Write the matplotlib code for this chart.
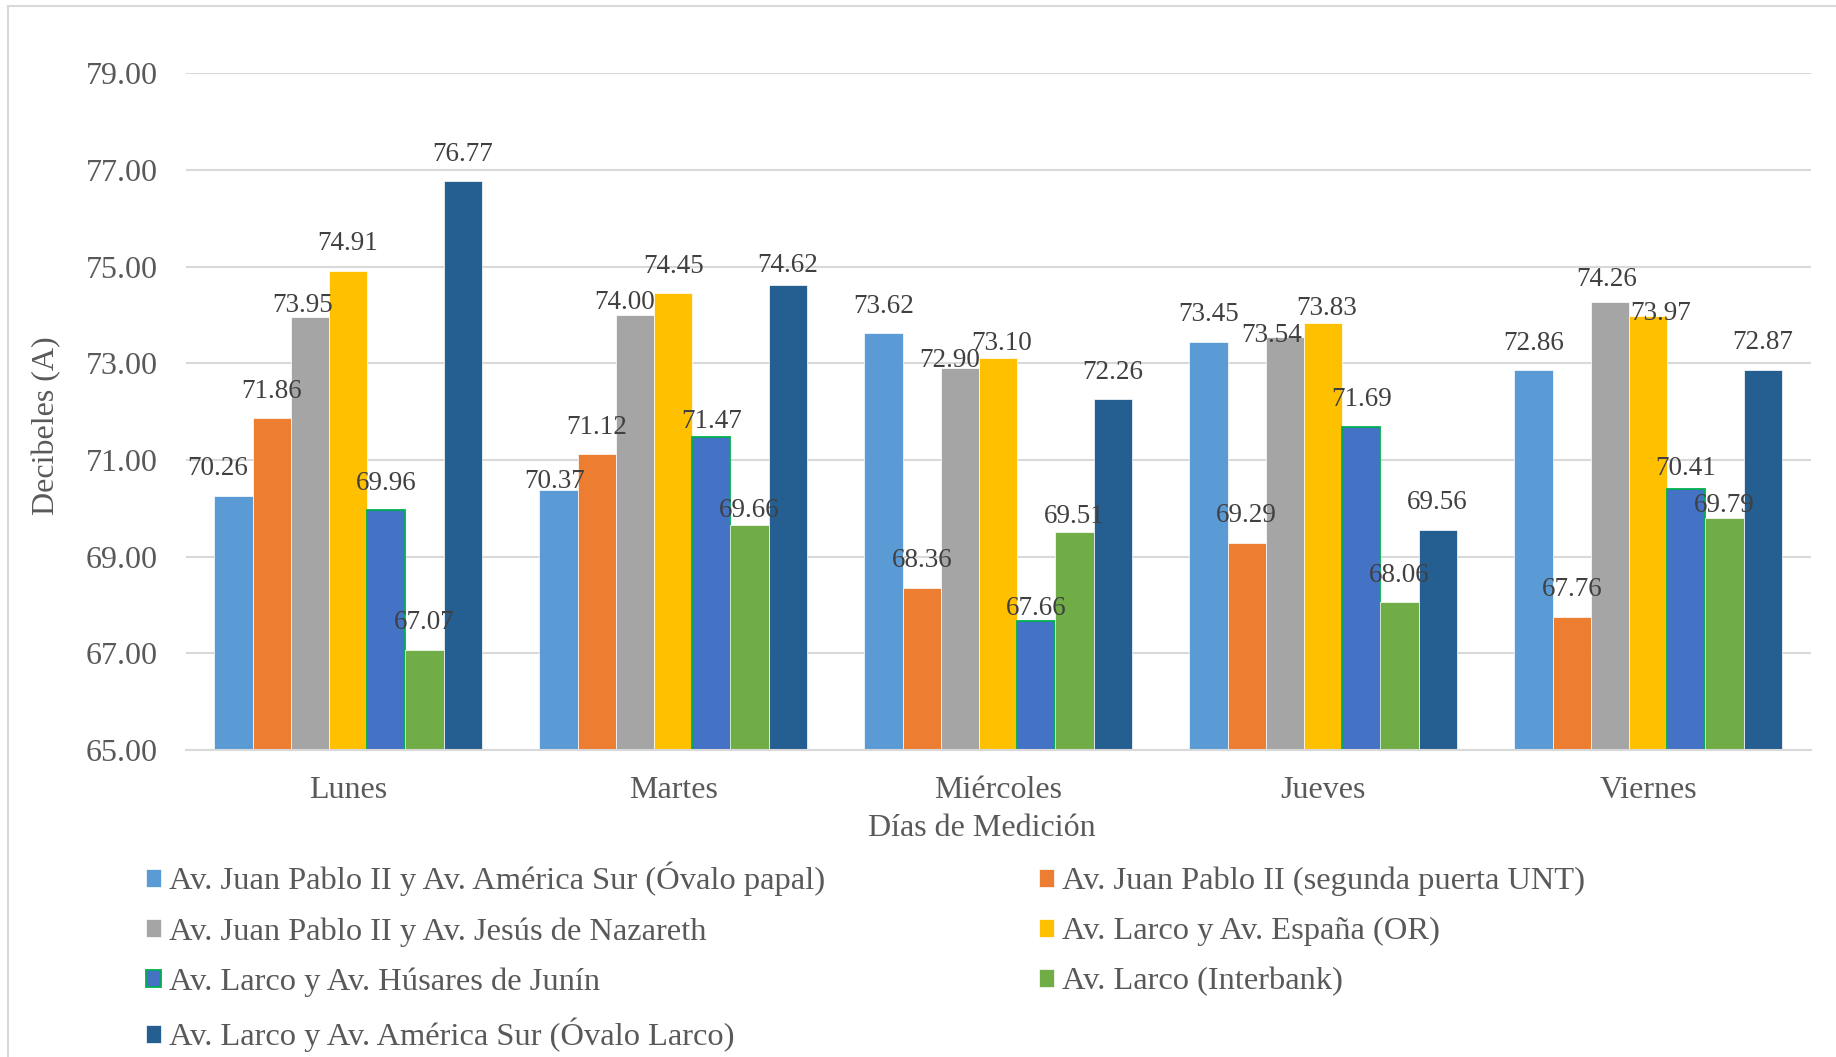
import numpy as np
import matplotlib
matplotlib.use('Agg')
import matplotlib.pyplot as plt
from matplotlib.lines import Line2D

plt.rcParams['font.family'] = ['Liberation Serif', 'DejaVu Serif']

# Days on the x axis
dias = ['Lunes', 'Martes', 'Miércoles', 'Jueves', 'Viernes']

# Measuring points (legend entries)
puntos = ['Av. Juan Pablo II y Av. América Sur (Óvalo papal)',
          'Av. Juan Pablo II (segunda puerta UNT)',
          'Av. Juan Pablo II y Av. Jesús de Nazareth',
          'Av. Larco y Av. España (OR)',
          'Av. Larco y Av. Húsares de Junín',
          'Av. Larco (Interbank)',
          'Av. Larco y Av. América Sur (Óvalo Larco)']

# Decibels (A) per point, Monday..Friday
ovalo_papal = [70.26, 70.37, 73.62, 73.45, 72.86]
segunda_puerta = [71.86, 71.12, 68.36, 69.29, 67.76]
jesus_nazareth = [73.95, 74.00, 72.90, 73.54, 74.26]
larco_espana = [74.91, 74.45, 73.10, 73.83, 73.97]
husares_junin = [69.96, 71.47, 67.66, 71.69, 70.41]
larco_interbank = [67.07, 69.66, 69.51, 68.06, 69.79]
ovalo_larco = [76.77, 74.62, 72.26, 69.56, 72.87]

series = [ovalo_papal, segunda_puerta, jesus_nazareth, larco_espana,
          husares_junin, larco_interbank, ovalo_larco]
colores = ['#5B9BD5', '#ED7D31', '#A5A5A5', '#FFC000',
           '#4472C4', '#70AD47', '#255E91']

# manual label nudges (pixels): (series, day) -> (dx, drop)
nudge = {(0, 0): (-16, 0), (2, 0): (-7, 15),
         (0, 1): (-4, 18), (2, 1): (-10, 15), (4, 1): (0, 11), (5, 1): (0, 13), (6, 1): (0, 8),
         (2, 2): (-10, 19), (3, 2): (3, 12), (4, 2): (0, 14), (5, 2): (0, 11),
         (2, 3): (-13, 25), (3, 3): (3, 12),
         (2, 4): (-3, 4), (3, 4): (12, 24), (4, 4): (-1, 7), (5, 4): (0, 14)}

texto = '#595959'
fig = plt.figure(figsize=(18.36, 10.57), dpi=100)
ax = fig.add_axes([0.1011, 0.2904, 0.8851, 0.6403])

x = np.arange(len(dias))
w = 0.1175
barras = []
for i, vals in enumerate(series):
    if i == 4:
        ec, lw = '#00B050', 1.3
    else:
        ec, lw = 'white', 0.5
    b = ax.bar(x + (i - 3) * w, vals, w, color=colores[i], edgecolor=ec,
               linewidth=lw, label=puntos[i], zorder=2)
    barras.append(b)
    for j, v in enumerate(vals):
        dx, drop = nudge.get((i, j), (0, 0))
        ax.annotate('%.2f' % v, (x[j] + (i - 3) * w, v), xytext=(dx, 27 - drop),
                    textcoords='offset pixels', ha='center', va='center',
                    fontsize=19.5, color='#404040', zorder=5)

ax.set_ylim(65, 79)
ax.set_xlim(-0.5, 4.5)
ax.set_yticks(np.arange(65, 80, 2))
ax.set_yticklabels(['%.2f' % t for t in np.arange(65, 80, 2)])
ax.set_xticks(x)
ax.set_xticklabels(dias)
ax.tick_params(axis='both', length=0, labelsize=23, labelcolor=texto)
ax.tick_params(axis='y', pad=20)
ax.tick_params(axis='x', pad=19)
ax.grid(axis='y', color='#D9D9D9', linewidth=1.5, zorder=0)
ax.set_axisbelow(True)
for s in ['top', 'right', 'left']:
    ax.spines[s].set_visible(False)
ax.spines['bottom'].set_color('#D9D9D9')
ax.spines['bottom'].set_linewidth(1.5)

fig.text(47 / 1836, 1 - 426 / 1057, 'Decibeles (A)', rotation=90,
         ha='center', va='center', fontsize=23, color=texto)
fig.text(982 / 1836, 1 - 829 / 1057, 'Días de Medición',
         ha='center', va='center', fontsize=23, color=texto)

# legend laid out row by row in two columns
orden = [0, 2, 4, 6, 1, 3, 5]
fig.legend([barras[k] for k in orden], [puntos[k] for k in orden],
           loc='upper left', bbox_to_anchor=(146 / 1836, 1 - 862 / 1057),
           ncol=2, frameon=False, fontsize=23.4, labelcolor=texto,
           handlelength=0.47, handleheight=0.47, handletextpad=0.25,
           columnspacing=6.57, labelspacing=0.64, borderpad=0, borderaxespad=0)

# chart area border
fig.add_artist(Line2D([8 / 1836, 8 / 1836], [0, 1 - 6 / 1057], color='#D9D9D9', linewidth=1.5))
fig.add_artist(Line2D([8 / 1836, 1], [1 - 6 / 1057, 1 - 6 / 1057], color='#D9D9D9', linewidth=1.5))

plt.savefig('out.png', dpi=100)
